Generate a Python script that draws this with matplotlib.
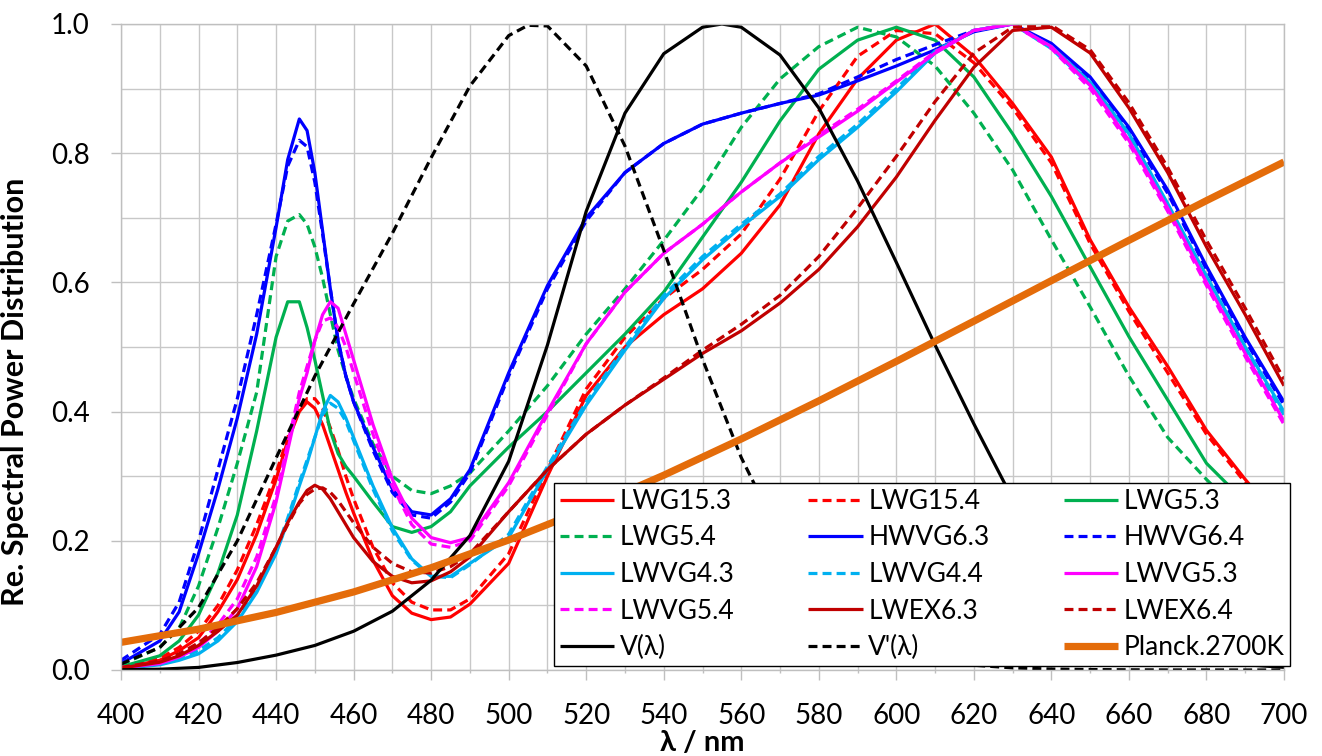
import matplotlib
matplotlib.use("Agg")
import matplotlib.pyplot as plt
from matplotlib.ticker import MultipleLocator, FormatStrFormatter

plt.rcParams['font.family'] = ['Lato', 'DejaVu Sans']

# ---------------- data ----------------
wl = [400, 410, 415, 420, 425, 430, 435, 440, 443, 446, 448, 450, 452, 454, 456, 458, 460,
      465, 470, 475, 480, 485, 490, 500, 510, 520, 530, 540, 550, 560, 570, 580, 590,
      600, 610, 620, 630, 640, 650, 660, 670, 680, 690, 700]

lwg15_3 = [0.003, 0.015, 0.03, 0.05, 0.09, 0.14, 0.21, 0.295, 0.355, 0.40, 0.415, 0.405, 0.38, 0.345, 0.31, 0.275, 0.243,
           0.17, 0.115, 0.088, 0.078, 0.082, 0.102, 0.165, 0.30, 0.425, 0.50, 0.55, 0.59, 0.645, 0.72, 0.83, 0.915,
           0.975, 1.0, 0.95, 0.877, 0.794, 0.666, 0.562, 0.47, 0.371, 0.295, 0.225]
lwg15_4 = [0.004, 0.018, 0.035, 0.06, 0.10, 0.155, 0.225, 0.305, 0.36, 0.405, 0.42, 0.42, 0.405, 0.375, 0.34, 0.30, 0.265,
           0.19, 0.135, 0.105, 0.093, 0.093, 0.11, 0.18, 0.31, 0.435, 0.515, 0.575, 0.62, 0.675, 0.76, 0.865, 0.95,
           0.99, 0.985, 0.94, 0.87, 0.785, 0.66, 0.555, 0.46, 0.365, 0.29, 0.22]
lwg5_3 = [0.005, 0.022, 0.045, 0.085, 0.15, 0.24, 0.37, 0.515, 0.57, 0.57, 0.53, 0.48, 0.425, 0.37, 0.335, 0.315, 0.30,
          0.26, 0.222, 0.213, 0.222, 0.245, 0.285, 0.345, 0.40, 0.46, 0.52, 0.585, 0.67, 0.755, 0.85, 0.93, 0.975,
          0.995, 0.975, 0.918, 0.83, 0.733, 0.624, 0.516, 0.418, 0.32, 0.26, 0.20]
lwg5_4 = [0.008, 0.035, 0.065, 0.13, 0.22, 0.32, 0.43, 0.64, 0.695, 0.705, 0.69, 0.655, 0.607, 0.55, 0.495, 0.455, 0.42,
          0.35, 0.30, 0.278, 0.273, 0.285, 0.305, 0.37, 0.44, 0.52, 0.59, 0.665, 0.745, 0.84, 0.915, 0.965, 0.995,
          0.98, 0.935, 0.862, 0.774, 0.666, 0.562, 0.455, 0.36, 0.295, 0.235, 0.18]
hwvg6_3 = [0.01, 0.045, 0.09, 0.18, 0.28, 0.39, 0.52, 0.685, 0.79, 0.853, 0.835, 0.77, 0.68, 0.59, 0.51, 0.455, 0.415,
           0.345, 0.28, 0.245, 0.24, 0.265, 0.31, 0.46, 0.595, 0.70, 0.77, 0.815, 0.845, 0.862, 0.877, 0.89, 0.912,
           0.935, 0.96, 0.988, 1.0, 0.97, 0.918, 0.84, 0.743, 0.625, 0.515, 0.415]
hwvg6_4 = [0.015, 0.055, 0.105, 0.20, 0.31, 0.42, 0.55, 0.69, 0.78, 0.82, 0.81, 0.755, 0.675, 0.59, 0.51, 0.455, 0.415,
           0.34, 0.275, 0.24, 0.235, 0.26, 0.305, 0.455, 0.59, 0.695, 0.77, 0.815, 0.845, 0.862, 0.877, 0.892, 0.918,
           0.945, 0.968, 0.99, 1.0, 0.968, 0.915, 0.835, 0.738, 0.62, 0.51, 0.41]
lwvg4_3 = [0.002, 0.008, 0.015, 0.025, 0.045, 0.075, 0.12, 0.18, 0.23, 0.285, 0.32, 0.36, 0.40, 0.425, 0.415, 0.39, 0.36,
           0.285, 0.22, 0.172, 0.145, 0.145, 0.165, 0.205, 0.31, 0.41, 0.495, 0.575, 0.635, 0.686, 0.733, 0.79, 0.84,
           0.895, 0.955, 0.99, 1.0, 0.965, 0.91, 0.83, 0.722, 0.61, 0.50, 0.40]
lwvg4_4 = [0.003, 0.01, 0.018, 0.03, 0.05, 0.08, 0.125, 0.185, 0.235, 0.29, 0.325, 0.36, 0.395, 0.413, 0.405, 0.385, 0.355,
           0.28, 0.215, 0.17, 0.145, 0.143, 0.163, 0.21, 0.315, 0.415, 0.50, 0.58, 0.64, 0.69, 0.737, 0.795, 0.845,
           0.90, 0.958, 0.99, 1.0, 0.962, 0.905, 0.825, 0.718, 0.605, 0.495, 0.395]
lwvg5_3 = [0.003, 0.01, 0.02, 0.035, 0.06, 0.095, 0.16, 0.26, 0.34, 0.42, 0.46, 0.51, 0.55, 0.57, 0.56, 0.52, 0.48,
           0.38, 0.295, 0.235, 0.205, 0.197, 0.205, 0.29, 0.40, 0.505, 0.585, 0.645, 0.69, 0.74, 0.785, 0.825, 0.865,
           0.91, 0.955, 0.99, 1.0, 0.965, 0.905, 0.82, 0.715, 0.60, 0.49, 0.385]
lwvg5_4 = [0.004, 0.012, 0.022, 0.04, 0.07, 0.11, 0.175, 0.27, 0.35, 0.43, 0.47, 0.51, 0.54, 0.545, 0.53, 0.50, 0.46,
           0.365, 0.285, 0.225, 0.195, 0.19, 0.20, 0.285, 0.395, 0.505, 0.585, 0.645, 0.69, 0.74, 0.785, 0.828, 0.868,
           0.912, 0.957, 0.99, 1.0, 0.962, 0.90, 0.815, 0.71, 0.595, 0.485, 0.38]
lwex6_3 = [0.003, 0.012, 0.022, 0.038, 0.06, 0.085, 0.13, 0.19, 0.228, 0.26, 0.278, 0.286, 0.28, 0.265, 0.245, 0.225, 0.205,
           0.168, 0.145, 0.135, 0.138, 0.152, 0.175, 0.245, 0.31, 0.365, 0.41, 0.45, 0.49, 0.525, 0.568, 0.62, 0.686,
           0.763, 0.851, 0.933, 0.99, 0.995, 0.955, 0.87, 0.77, 0.655, 0.55, 0.44]
lwex6_4 = [0.004, 0.014, 0.025, 0.042, 0.065, 0.095, 0.135, 0.19, 0.225, 0.258, 0.272, 0.28, 0.282, 0.275, 0.262, 0.245, 0.228,
           0.19, 0.165, 0.152, 0.15, 0.16, 0.18, 0.245, 0.31, 0.365, 0.41, 0.452, 0.495, 0.535, 0.58, 0.64, 0.715,
           0.795, 0.88, 0.955, 0.995, 0.998, 0.96, 0.878, 0.778, 0.665, 0.56, 0.45]

v_wl = [400, 410, 420, 430, 440, 450, 460, 470, 480, 490, 500, 510, 520, 530, 540, 550, 555, 560,
        570, 580, 590, 600, 610, 620, 630, 640, 650, 660, 670, 680, 690, 700]
v_photopic = [0.0004, 0.0012, 0.004, 0.0116, 0.023, 0.038, 0.06, 0.091, 0.139, 0.208, 0.323, 0.503, 0.71, 0.862,
              0.954, 0.995, 1.0, 0.995, 0.952, 0.87, 0.757, 0.631, 0.503, 0.381, 0.265, 0.175, 0.107, 0.061,
              0.032, 0.017, 0.0082, 0.0041]
vs_wl = [400, 410, 420, 430, 440, 450, 460, 470, 480, 490, 500, 505, 510, 520, 530, 540, 550, 560,
         570, 580, 590, 600, 610, 620, 630, 640, 650, 660, 670, 680, 690, 700]
v_scotopic = [0.0093, 0.0348, 0.0966, 0.1998, 0.3281, 0.455, 0.567, 0.676, 0.793, 0.904, 0.982, 0.998, 0.997,
              0.935, 0.811, 0.65, 0.481, 0.3288, 0.2076, 0.1212, 0.0655, 0.0332, 0.0159, 0.0074, 0.0033,
              0.0015, 0.0007, 0.0003, 0.0001, 0.0001, 0.0, 0.0]
planck_wl = [400, 420, 440, 460, 480, 500, 520, 540, 560, 580, 600, 620, 640, 660, 680, 700]
planck_2700 = [0.0428, 0.0632, 0.0891, 0.1208, 0.1583, 0.2012, 0.2491, 0.3015, 0.3576, 0.4166,
               0.4777, 0.5400, 0.6027, 0.6651, 0.7266, 0.7864]

# ---------------- styling ----------------
DASH = (2.8, 1.6)
LW = 2.3
series = [
    ("LWG15.3", wl, lwg15_3, "#FF0000", None, LW),
    ("LWG15.4", wl, lwg15_4, "#FF0000", DASH, LW),
    ("LWG5.3", wl, lwg5_3, "#00B050", None, LW),
    ("LWG5.4", wl, lwg5_4, "#00B050", DASH, LW),
    ("HWVG6.3", wl, hwvg6_3, "#0000FF", None, LW),
    ("HWVG6.4", wl, hwvg6_4, "#0000FF", DASH, LW),
    ("LWVG4.3", wl, lwvg4_3, "#00B0F0", None, LW),
    ("LWVG4.4", wl, lwvg4_4, "#00B0F0", DASH, LW),
    ("LWVG5.3", wl, lwvg5_3, "#FF00FF", None, LW),
    ("LWVG5.4", wl, lwvg5_4, "#FF00FF", DASH, LW),
    ("LWEX6.3", wl, lwex6_3, "#C00000", None, LW),
    ("LWEX6.4", wl, lwex6_4, "#C00000", DASH, LW),
    ("V(λ)", v_wl, v_photopic, "#000000", None, LW),
    ("V'(λ)", vs_wl, v_scotopic, "#000000", DASH, LW),
    ("Planck.2700K", planck_wl, planck_2700, "#E46C0A", None, 5.2),
]

fig = plt.figure(figsize=(13.22, 7.56), dpi=100)
ax = fig.add_axes([121 / 1322, 86 / 756, 1163 / 1322, 646 / 756])

handles = []
for name, x, y, col, dash, lw in series:
    if dash is None:
        h, = ax.plot(x, y, color=col, lw=lw, label=name, solid_capstyle='butt',
                     solid_joinstyle='round')
    else:
        h, = ax.plot(x, y, color=col, lw=lw, label=name, dashes=dash, dash_capstyle='butt')
    handles.append(h)

ax.set_xlim(400, 700)
ax.set_ylim(0, 1.0)
ax.xaxis.set_major_locator(MultipleLocator(20))
ax.xaxis.set_minor_locator(MultipleLocator(10))
ax.yaxis.set_major_locator(MultipleLocator(0.2))
ax.yaxis.set_minor_locator(MultipleLocator(0.1))
ax.yaxis.set_major_formatter(FormatStrFormatter('%.1f'))
ax.grid(True, which='both', color='#C8C8C8', lw=1.0)
ax.set_axisbelow(True)
for s in ax.spines.values():
    s.set_color('#BFBFBF')
    s.set_linewidth(1.0)
ax.tick_params(which='major', length=7.5, width=1, color='#BFBFBF', labelsize=20)
ax.tick_params(axis='x', which='minor', length=2.5, width=1, color='#BFBFBF')
ax.tick_params(axis='y', which='minor', length=0)
ax.tick_params(axis='x', which='major', pad=16)
ax.tick_params(axis='y', which='major', pad=15)

ax.set_xlabel("λ / nm", fontsize=21, fontweight='bold', labelpad=1)
ax.set_ylabel("Re. Spectral Power Distribution", fontsize=22, fontweight='bold')
ax.yaxis.set_label_coords(-0.079, 0.43)

# row-major legend ordering for 3 columns
ncol = 3
nrow = 5
order = [handles[r * ncol + c] for c in range(ncol) for r in range(nrow)]
leg = ax.legend(handles=order, labels=[h.get_label() for h in order], ncol=ncol,
                loc='lower left', bbox_to_anchor=(0.3723, 0.006, 0.633, 0.283), mode='expand',
                fontsize=19, frameon=True, fancybox=False, framealpha=1.0, edgecolor='black',
                handlelength=2.05, handletextpad=0.22, borderaxespad=0, labelspacing=0.44,
                borderpad=0.22, columnspacing=0.8)
leg.get_frame().set_linewidth(1.0)
leg.set_zorder(10)

fig.savefig("out.png", dpi=100)
